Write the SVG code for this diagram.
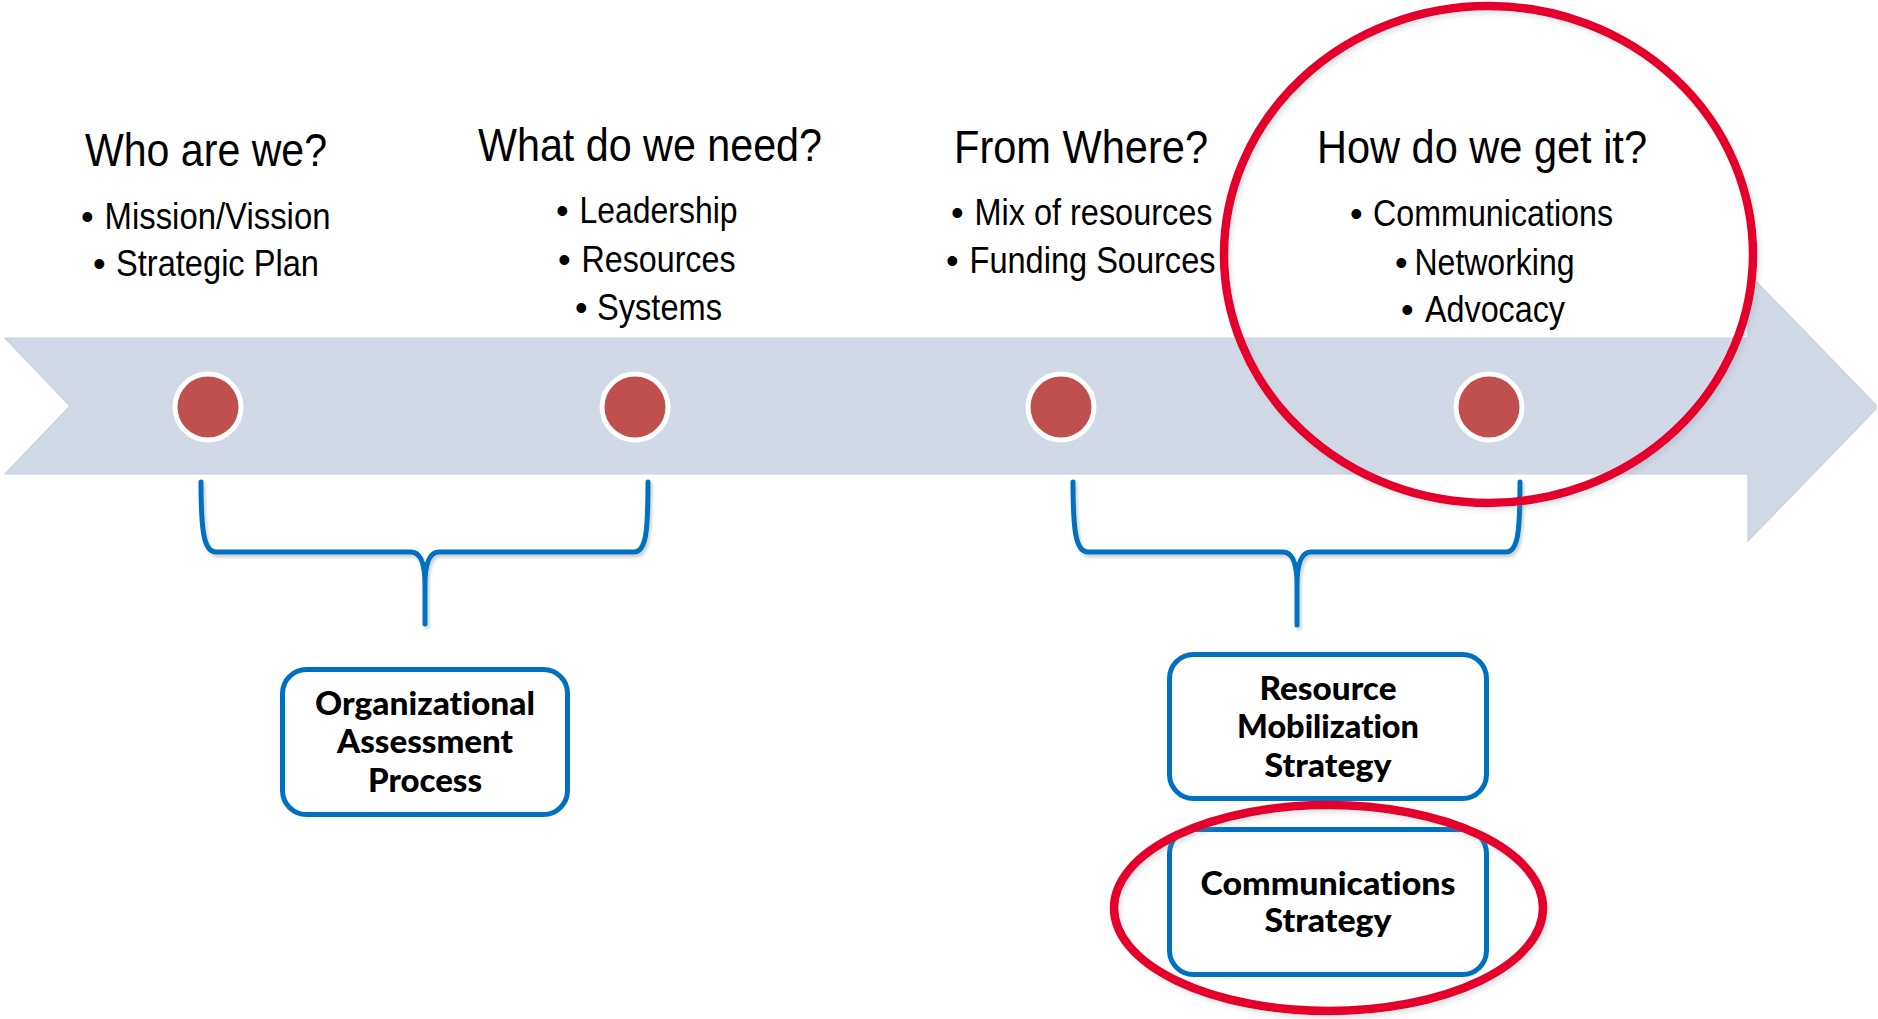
<svg xmlns="http://www.w3.org/2000/svg" width="1878" height="1019" viewBox="0 0 1878 1019">
  <defs>
    <style>
      .head { font-family: "Liberation Sans", Arial, sans-serif; font-size: 47px; fill: #000; }
      .item { font-family: "Liberation Sans", Arial, sans-serif; font-size: 36px; fill: #000; }
      .dot { fill: #C0504D; stroke: #FFFFFF; stroke-width: 5; }
      .box { fill: #FFFFFF; stroke: #0070C0; stroke-width: 5; }
      .label { font-family: Lato, "Open Sans", sans-serif; font-weight: 900; font-size: 32px; fill: #000; text-anchor: middle; font-variant-ligatures: none; }
      .brace { fill: none; stroke: #0070C0; stroke-width: 5; stroke-linecap: round; stroke-linejoin: round; }
      .ring { fill: none; stroke: #E4002B; stroke-width: 8.5; }
    </style>
    <filter id="softShadow" x="-10%" y="-10%" width="120%" height="120%">
      <feDropShadow dx="2" dy="3" stdDeviation="1.5" flood-color="#000" flood-opacity="0.18"/>
    </filter>
    <filter id="ringShadow" x="-10%" y="-10%" width="120%" height="120%">
      <feDropShadow dx="3" dy="4" stdDeviation="2" flood-color="#8090A0" flood-opacity="0.2"/>
    </filter>
  </defs>

  <rect width="1878" height="1019" fill="#FFFFFF"/>

  <!-- timeline arrow -->
  <polygon id="timeline" points="5,338 1748,338 1748,273 1876,405 1876,409 1748,541 1748,474 5,474 70,406" fill="#D1D9E7" stroke="#C9D0DC" stroke-width="1.2"/>

  <!-- column headings with bullets -->
  <g id="col-who">
    <text class="head" x="85" y="166" textLength="242" lengthAdjust="spacingAndGlyphs">Who are we?</text>
    <text class="item" x="81" y="229">•</text>
    <text class="item" x="104.5" y="229" textLength="226" lengthAdjust="spacingAndGlyphs">Mission/Vission</text>
    <text class="item" x="93" y="276">•</text>
    <text class="item" x="116" y="276" textLength="203" lengthAdjust="spacingAndGlyphs">Strategic Plan</text>
  </g>

  <g id="col-what">
    <text class="head" x="478" y="161" textLength="344" lengthAdjust="spacingAndGlyphs">What do we need?</text>
    <text class="item" x="556" y="223">•</text>
    <text class="item" x="579.5" y="223" textLength="158" lengthAdjust="spacingAndGlyphs">Leadership</text>
    <text class="item" x="558" y="272">•</text>
    <text class="item" x="581.5" y="272" textLength="154" lengthAdjust="spacingAndGlyphs">Resources</text>
    <text class="item" x="575" y="320">•</text>
    <text class="item" x="597" y="320" textLength="125" lengthAdjust="spacingAndGlyphs">Systems</text>
  </g>

  <g id="col-where">
    <text class="head" x="954" y="163" textLength="254" lengthAdjust="spacingAndGlyphs">From Where?</text>
    <text class="item" x="951" y="225">•</text>
    <text class="item" x="974.5" y="225" textLength="238" lengthAdjust="spacingAndGlyphs">Mix of resources</text>
    <text class="item" x="946" y="273">•</text>
    <text class="item" x="969.5" y="273" textLength="246" lengthAdjust="spacingAndGlyphs">Funding Sources</text>
  </g>

  <g id="col-how">
    <text class="head" x="1317" y="163" textLength="330" lengthAdjust="spacingAndGlyphs">How do we get it?</text>
    <text class="item" x="1350" y="226">•</text>
    <text class="item" x="1373" y="226" textLength="240" lengthAdjust="spacingAndGlyphs">Communications</text>
    <text class="item" x="1395" y="275">•</text>
    <text class="item" x="1414.5" y="275" textLength="160" lengthAdjust="spacingAndGlyphs">Networking</text>
    <text class="item" x="1401" y="322">•</text>
    <text class="item" x="1425" y="322" textLength="140" lengthAdjust="spacingAndGlyphs">Advocacy</text>
  </g>

  <!-- milestones on the timeline -->
  <g id="milestone-1"><circle class="dot" cx="208" cy="407" r="33"/></g>
  <g id="milestone-2"><circle class="dot" cx="635" cy="407" r="33"/></g>
  <g id="milestone-3"><circle class="dot" cx="1061" cy="407" r="33"/></g>
  <g id="milestone-4"><circle class="dot" cx="1489" cy="407" r="33"/></g>

  <!-- curly braces grouping the milestones -->
  <g id="connectors" filter="url(#softShadow)">
    <path class="brace" d="M201,482 C201,532 204,552 216,552 L411,552 C420,552 425,562 425,585 L425,624 M425,585 C425,562 430,552 439,552 L634,552 C646,552 648,532 648,482"/>
    <path class="brace" d="M1073,482 C1073,532 1076,552 1088,552 L1283,552 C1292,552 1297,562 1297,585 L1297,625 M1297,585 C1297,562 1302,552 1311,552 L1506,552 C1518,552 1520,532 1520,482"/>
  </g>

  <!-- outcome boxes -->
  <g id="box-assessment">
    <rect class="box" x="282.5" y="669.5" width="285" height="145" rx="24"/>
    <text class="label" x="425" y="715" textLength="220" lengthAdjust="spacingAndGlyphs">Organizational</text>
    <text class="label" x="425" y="753" textLength="176" lengthAdjust="spacingAndGlyphs">Assessment</text>
    <text class="label" x="425" y="792" textLength="114" lengthAdjust="spacingAndGlyphs">Process</text>
  </g>

  <g id="box-mobilization">
    <rect class="box" x="1169.5" y="654.5" width="317" height="144" rx="24"/>
    <text class="label" x="1328" y="700" textLength="137" lengthAdjust="spacingAndGlyphs">Resource</text>
    <text class="label" x="1328" y="738" textLength="182" lengthAdjust="spacingAndGlyphs">Mobilization</text>
    <text class="label" x="1328" y="777" textLength="127" lengthAdjust="spacingAndGlyphs">Strategy</text>
  </g>

  <g id="box-communications">
    <rect class="box" x="1169.5" y="829.5" width="317" height="145" rx="24"/>
    <text class="label" x="1328" y="895" textLength="255" lengthAdjust="spacingAndGlyphs">Communications</text>
    <text class="label" x="1328" y="932" textLength="127" lengthAdjust="spacingAndGlyphs">Strategy</text>
  </g>

  <!-- highlight rings -->
  <g id="highlight-how" filter="url(#ringShadow)">
    <ellipse class="ring" cx="1488.5" cy="254.5" rx="264.5" ry="248.5"/>
  </g>
  <g id="highlight-communications" filter="url(#ringShadow)">
    <ellipse class="ring" cx="1328.5" cy="908" rx="214.5" ry="103"/>
  </g>
</svg>
